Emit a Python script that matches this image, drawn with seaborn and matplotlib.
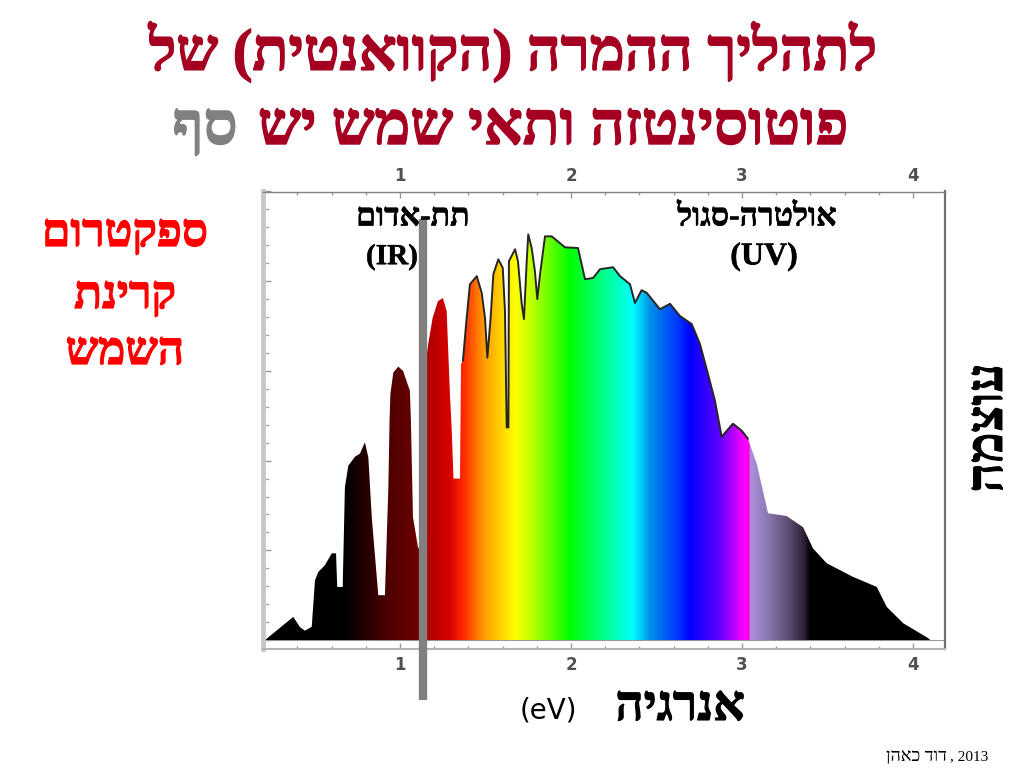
# Solar spectrum slide: energy vs intensity with rainbow fill
import numpy as np
import matplotlib
matplotlib.use('Agg')
import matplotlib.pyplot as plt
import matplotlib.patheffects as pe
from matplotlib.colors import LinearSegmentedColormap
import seaborn as sns

# spectrum outline (eV, intensity in y tick units)
energy = [0.211, 0.376, 0.415, 0.444, 0.484, 0.503, 0.522, 0.561, 0.601, 0.626,
          0.633, 0.665, 0.678, 0.698, 0.737, 0.766, 0.795, 0.815, 0.835, 0.873,
          0.912, 0.932, 0.939, 0.944, 0.961, 0.990, 1.018, 1.058, 1.064, 1.076,
          1.105, 1.117, 1.150, 1.158, 1.165, 1.191, 1.222, 1.251, 1.273, 1.292,
          1.302, 1.313, 1.351, 1.354, 1.357, 1.368, 1.390, 1.409, 1.449, 1.478,
          1.497, 1.511, 1.530, 1.546, 1.575, 1.601, 1.614, 1.624, 1.634, 1.637,
          1.673, 1.690, 1.712, 1.725, 1.741, 1.750, 1.770, 1.789, 1.803, 1.819,
          1.848, 1.887, 1.965, 2.041, 2.082, 2.129, 2.170, 2.246, 2.287, 2.345,
          2.374, 2.413, 2.443, 2.520, 2.579, 2.637, 2.706, 2.754, 2.801, 2.842,
          2.881, 2.947, 2.998, 3.035, 3.086, 3.152, 3.261, 3.357, 3.415, 3.495,
          3.649, 3.788, 3.846, 3.942, 4.088, 4.100]
intensity = [0.0, 1.29, 0.72, 0.52, 0.74, 3.33, 3.79, 4.17, 4.83, 4.83,
             2.96, 2.96, 8.52, 9.72, 10.22, 10.39, 11.02, 10.18, 6.85, 2.5,
             2.5, 8.52, 12.22, 13.72, 14.91, 15.24, 15.0, 13.89, 12.22, 6.85,
             5.18, 5.0, 5.18, 16.0, 16.5, 17.96, 18.89, 19.06, 18.33, 13.72,
             11.85, 9.0, 9.0, 12.22, 15.39, 15.56, 17.96, 19.83, 20.28, 19.35,
             17.96, 15.74, 17.96, 20.39, 21.22, 20.74, 18.33, 11.85, 11.85, 21.11,
             21.78, 21.11, 18.72, 17.89, 21.11, 22.61, 21.85, 20.56, 19.0, 20.39,
             22.5, 22.5, 21.89, 21.85, 20.11, 20.18, 20.67, 20.78, 20.28, 19.83,
             18.79, 19.5, 19.35, 18.44, 18.74, 18.06, 17.61, 16.5, 14.83, 13.33,
             11.33, 12.06, 11.67, 11.22, 9.83, 7.07, 6.91, 6.29, 5.11, 4.28,
             3.52, 2.96, 1.85, 0.94, 0.11, 0.0]

# colour of the fill along the energy axis
stop_ev = [0.199, 0.678, 0.942, 1.094, 1.164, 1.292, 1.368, 1.497, 1.673, 1.80,
           1.994, 2.152, 2.363, 2.462, 2.637, 2.696, 2.871, 3.018, 3.044, 3.046,
           3.152, 3.28, 3.368, 3.398, 4.187]
stop_colors = ['#000000', '#000000', '#500000', '#680000', '#b00000', '#d80000',
               '#ff2800', '#ffa000', '#ffff00', '#a8ff00', '#00ff00', '#00ff70',
               '#00ffff', '#0090e8', '#0030ff', '#0000ff', '#6000ff', '#ff00ff',
               '#ff00e0', '#b090e0', '#8a78b0', '#5a4a70', '#2a2030', '#000000',
               '#000000']

x_ticks = [1, 2, 3, 4]
x_minor = [0.4, 0.6, 0.8, 1.2, 1.4, 1.6, 1.8, 2.2, 2.4, 2.6, 2.8, 3.2, 3.4, 3.6, 3.8]
y_ticks = [0, 5, 10, 15, 20, 25]
y_minor = [1, 2, 3, 4, 6, 7, 8, 9, 11, 12, 13, 14, 16, 17, 18, 19, 21, 22, 23, 24]

title_1 = 'לתהליך ההמרה (הקוואנטית) של'
title_2 = 'פוטוסינטזה ותאי שמש יש'
title_3 = 'סף'
side_lines = ['ספקטרום', 'קרינת', 'השמש']
ir_label = 'תת-אדום'
uv_label = 'אולטרה-סגול'
x_label = 'אנרגיה'
y_label = 'עוצמה'
credit = 'דוד כאהן'

DARK_RED = '#a50021'
GRAY = '#808080'
HEBREW = 'Liberation Serif'

sns.set_theme(style='white')
plt.rcParams['font.family'] = [HEBREW, 'DejaVu Sans']


def rtl(s):
    # matplotlib has no bidi, so Hebrew goes in visual order
    swap = {'(': ')', ')': '('}
    return ''.join(swap.get(c, c) for c in reversed(s))


def label(x, y, s, size, color='black', weight='bold', heavy=0, **kw):
    # x, y are pixels of the 1024x768 picture, heavy thickens the letters
    t = fig.text(x / 1024, 1 - y / 768, s, fontsize=size, color=color, fontweight=weight,
                 ha='center', va='center', **kw)
    if heavy:
        t.set_path_effects([pe.withStroke(linewidth=heavy, foreground=color)])


fig = plt.figure(figsize=(10.24, 7.68), dpi=100)
ax = fig.add_axes([263 / 1024, 1 - 649 / 768, (945 - 263) / 1024, (649 - 191.5) / 768])

# rainbow image clipped to the area under the spectrum
energy = np.array(energy)
intensity = np.array(intensity)
x_low, x_high = stop_ev[0], stop_ev[-1]
positions = [(e - x_low) / (x_high - x_low) for e in stop_ev]
spectrum_cmap = LinearSegmentedColormap.from_list('spectrum', list(zip(positions, stop_colors)), N=2048)
area = ax.fill_between(energy, 0, intensity, facecolor='none', linewidth=0)
img = ax.imshow(np.linspace(0, 1, 2048).reshape(1, -1), cmap=spectrum_cmap, aspect='auto',
                extent=[x_low, x_high, -0.5, 25], interpolation='bilinear', zorder=2)
img.set_clip_path(area.get_paths()[0], transform=ax.transData)

# dark edge on the coloured part only
edge = (energy > 1.36) & (energy < 3.04)
sns.lineplot(x=energy[edge], y=intensity[edge], color='#262626', linewidth=1.4,
             estimator=None, sort=False, ax=ax, zorder=3)

ax.axhline(0, color='#9a9a9a', linewidth=0.8, zorder=1)
ax.set_xlim(x_low, x_high)
ax.set_ylim(-0.5, 24.92)

ax.set_xticks(x_ticks)
ax.set_xticks(x_minor, minor=True)
ax.set_yticks(y_ticks)
ax.set_yticks(y_minor, minor=True)
ax.set_yticklabels([])
ax.tick_params(axis='x', which='major', direction='in', top=True, bottom=True, labeltop=True,
               labelbottom=True, length=4, width=1, color='#999999', labelcolor='#505050',
               labelsize=12, pad=5)
ax.tick_params(axis='x', which='minor', direction='in', top=True, bottom=True, length=2,
               width=1, color='#999999')
ax.tick_params(axis='y', which='major', direction='in', left=True, length=6, width=1, color='#999999')
ax.tick_params(axis='y', which='minor', direction='in', left=True, length=4, width=1, color='#aaaaaa')
for t in ax.get_xticklabels():
    t.set_fontfamily('DejaVu Sans')
    t.set_fontweight('bold')

ax.spines['left'].set(color='#c8c8c8', linewidth=3.5)
ax.spines['bottom'].set(color='#b4b4b4', linewidth=1.5)
ax.spines['top'].set(color='#808080', linewidth=1)
ax.spines['right'].set(color='#707070', linewidth=1.6)

# gray marker bar, runs past the bottom of the frame
ax.plot([1.132, 1.132], [23.44, -3.33], color=GRAY, linewidth=6, solid_capstyle='butt',
        clip_on=False, zorder=5)

label(513, 52, rtl(title_1), 42.5, DARK_RED, heavy=1)
label(553, 130, rtl(title_2), 43.5, DARK_RED, heavy=1)
label(205, 130, rtl(title_3), 43, GRAY, heavy=1)

for y, line in zip([235, 297, 353], side_lines):
    label(125, y, rtl(line), 33, '#ff0000', heavy=0.9)

label(413, 218, rtl(ir_label), 23, heavy=0.4)
label(392, 257, '(IR)', 21, heavy=0.3)
label(757, 218, rtl(uv_label), 23, heavy=0.4)
label(764, 257, '(UV)', 23, heavy=0.3)

label(680, 708, rtl(x_label), 35.5, heavy=0.8)
label(548, 711, '(eV)', 20, weight='normal', family='DejaVu Sans')
label(990, 428, rtl(y_label), 37, rotation=90, heavy=0.7)

label(916, 757, rtl(credit), 13, weight='normal')
label(969, 757, ', 2013', 11, weight='normal')

fig.savefig('out.png', dpi=100)
